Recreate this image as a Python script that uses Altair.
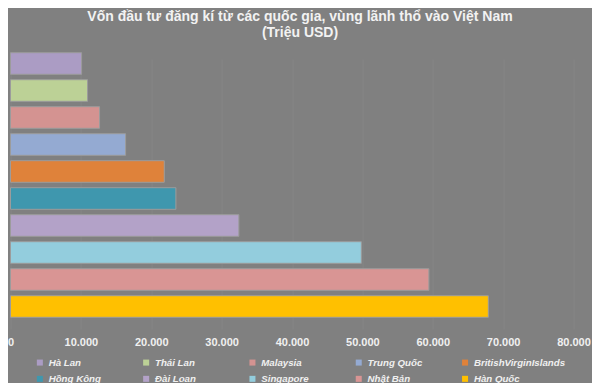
import altair as alt
import pandas as pd

countries = ["Hà Lan", "Thái Lan", "Malaysia", "Trung Quốc", "BritishVirginIslands",
             "Hồng Kông", "Đài Loan", "Singapore", "Nhật Bản", "Hàn Quốc"]
values = [10100, 10950, 12650, 16350, 21850, 23500, 32450, 49850, 59450, 67900]
colors = ["#ab9cc4", "#bcd196", "#d49391", "#94aad2", "#df823a",
          "#3f97ae", "#b3a2c8", "#93cddd", "#d99594", "#ffc000"]
tick_values = [0, 10000, 20000, 30000, 40000, 50000, 60000, 70000, 80000]

df = pd.DataFrame({"country": countries, "value": values})

FONT = "Liberation Sans"
BG = "#808080"

chart = alt.Chart(df).mark_bar(stroke="#9c9c9c", strokeWidth=1).encode(
    x=alt.X("value:Q",
            scale=alt.Scale(domain=[0, 80000], nice=False),
            axis=alt.Axis(values=tick_values,
                          labelExpr="replace(format(datum.value, ','), ',', '.')",
                          grid=True, gridColor="#858585", gridWidth=1,
                          domain=False, ticks=False,
                          labelColor="#f0f0f0", labelFont=FONT, labelFontSize=11,
                          labelFontWeight="bold", labelPadding=4, labelFlush=False),
            title=None),
    y=alt.Y("country:N", sort=countries, axis=None,
            scale=alt.Scale(range=[3, 273], paddingInner=0.2, paddingOuter=0.1)),
    color=alt.Color("country:N",
                    scale=alt.Scale(domain=countries, range=colors),
                    legend=alt.Legend(orient="none", legendX=24.5, legendY=310.5,
                                      direction="horizontal", columns=5,
                                      title=None, symbolType="square", symbolSize=36,
                                      symbolStrokeWidth=0, labelOffset=4,
                                      columnPadding=1.3, rowPadding=5.5,
                                      gridAlign="all",
                                      labelColor="#f0f0f0", labelFont=FONT,
                                      labelFontSize=9.7, labelFontWeight="bold",
                                      labelFontStyle="italic", labelLimit=200)),
).properties(
    width=563,
    height=285,
    autosize=alt.AutoSizeParams(type="none"),
    padding={"left": 2.5, "top": 39, "right": 18.5, "bottom": 51},
    title=alt.TitleParams(
        text=["Vốn đầu tư đăng kí từ các quốc gia, vùng lãnh thổ vào Việt Nam", "(Triệu USD)"],
        font=FONT, fontSize=14, fontWeight="bold", color="#f2f2f2",
        anchor="middle", frame="group", offset=7, lineHeight=16, dx=8),
    background=BG,
).configure_view(
    stroke=None, fill=BG
)

chart.save("out.html", embed_options={"renderer": "svg", "actions": False})
